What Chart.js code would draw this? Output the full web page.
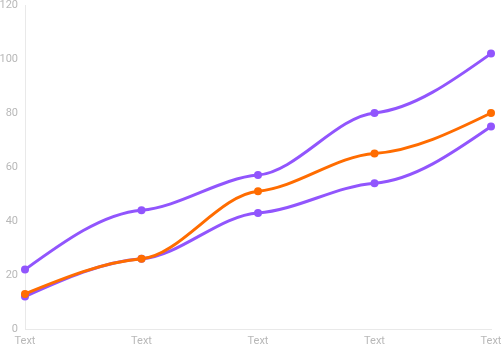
<!DOCTYPE html>
<html>
<head>
<meta charset="utf-8">
<script src="https://cdn.jsdelivr.net/npm/chart.js@4"></script>
<style>
  html, body { margin: 0; padding: 0; background: #fff; }
  #wrap { width: 502px; height: 345px; }
</style>
</head>
<body>
<div id="wrap"><canvas id="chart"></canvas></div>
<script>
// --- data ---
const labels = ['Text', 'Text', 'Text', 'Text', 'Text'];
const yTicks = [0, 20, 40, 60, 80, 100, 120];
const orangeSeries = [13, 26, 51, 65, 80];
const upperSeries = [22, 44, 57, 80, 102];
const lowerSeries = [12, 26, 43, 54, 75];

const PURPLE = '#9155FD';
const ORANGE = '#FF6C00';
const FLAT = 0.2; // how flat the curve sits on each interior point

// redo the bezier handles so the curve eases into every point
const flatCurve = {
  id: 'flatCurve',
  beforeDatasetDraw(chart, args) {
    const line = args.meta.dataset;
    const pts = args.meta.data;
    const n = pts.length;
    line.updateControlPoints(chart.chartArea, 'x');
    const slope = [];
    for (let i = 0; i < n - 1; i++) slope.push((pts[i + 1].y - pts[i].y) / (pts[i + 1].x - pts[i].x));
    const m = [];
    for (let i = 1; i < n - 1; i++) m[i] = FLAT * (slope[i - 1] + slope[i]) / 2;
    m[0] = (3 * slope[0] - m[1]) / 2;
    m[n - 1] = (3 * slope[n - 2] - m[n - 2]) / 2;
    pts.forEach((p, i) => {
      const hl = i > 0 ? (p.x - pts[i - 1].x) / 3 : 0;
      const hr = i < n - 1 ? (pts[i + 1].x - p.x) / 3 : 0;
      p.cp1x = p.x - hl; p.cp1y = p.y - m[i] * hl;
      p.cp2x = p.x + hr; p.cp2y = p.y + m[i] * hr;
    });
    line._path = undefined;
  }
};

function series(data, color) {
  return {
    data: data,
    borderColor: color,
    backgroundColor: color,
    borderWidth: 3,
    pointRadius: 4,
    pointHoverRadius: 4,
    pointBorderWidth: 0,
    tension: 0.4,
    fill: false
  };
}

const tickFont = { family: 'Roboto', size: 11 };

new Chart(document.getElementById('chart'), {
  type: 'line',
  data: {
    labels: labels,
    datasets: [
      series(orangeSeries, ORANGE),
      series(upperSeries, PURPLE),
      series(lowerSeries, PURPLE)
    ]
  },
  options: {
    responsive: true, maintainAspectRatio: false,
    animation: false,
    layout: { padding: 0, autoPadding: false },
    plugins: { legend: { display: false }, tooltip: { enabled: false } },
    scales: {
      x: {
        offset: false,
        grid: { display: false, drawTicks: false },
        border: { display: true, color: '#e9e9e9', width: 1 },
        ticks: { color: '#b8b8b8', font: tickFont, padding: 6, maxRotation: 0 },
        afterFit: s => { s.height = 16; s.paddingLeft = 0; s.paddingRight = 11; }
      },
      y: {
        min: yTicks[0], max: yTicks[yTicks.length - 1],
        afterBuildTicks: s => { s.ticks = yTicks.map(v => ({ value: v })); },
        grid: { display: false, drawTicks: false },
        border: { display: true, color: '#e9e9e9', width: 1 },
        ticks: { color: '#b8b8b8', font: tickFont, padding: 7 },
        afterFit: s => { s.width = 25; s.paddingTop = 5; s.paddingBottom = 0; }
      }
    }
  },
  plugins: [flatCurve]
});
</script>
</body>
</html>
